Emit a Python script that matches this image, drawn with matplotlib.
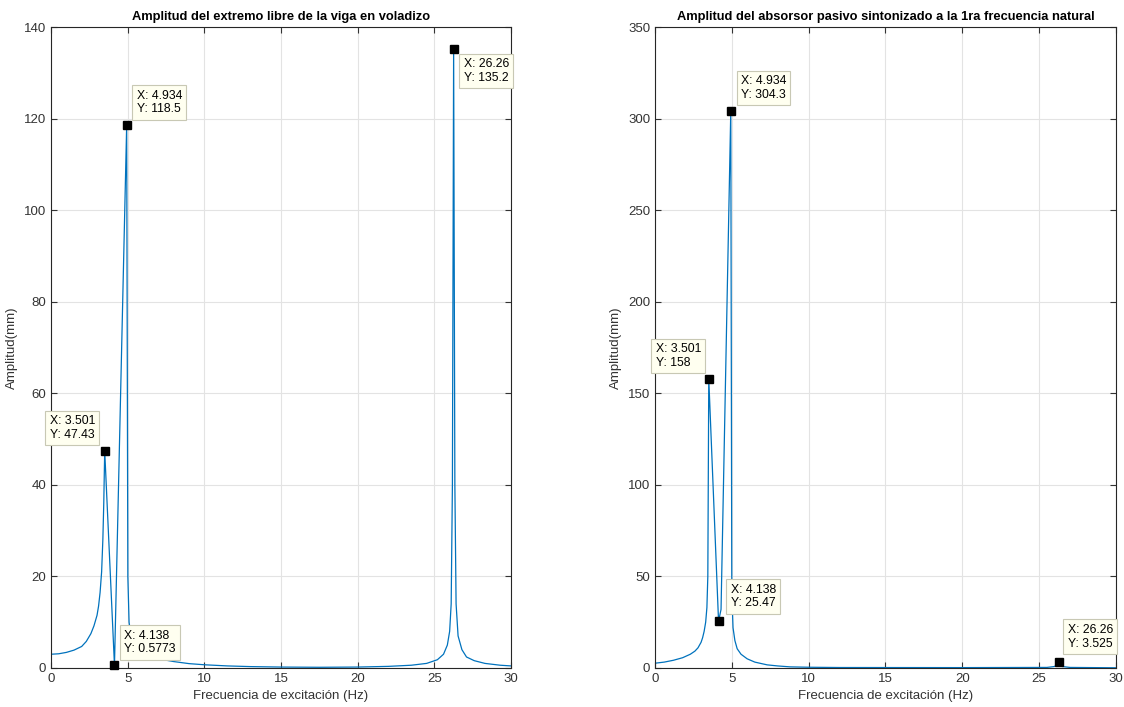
import matplotlib
matplotlib.use("Agg")
import matplotlib.pyplot as plt

plt.rcParams["font.family"] = ["Liberation Sans", "DejaVu Sans"]

# Free end of the cantilever beam (left panel)
freq_viga = [0, 0.5, 1, 1.5, 2, 2.3, 2.6, 2.8, 3.0, 3.1, 3.2, 3.3, 3.38, 3.44,
             3.501, 4.138, 4.934, 5.01, 5.09, 5.2, 5.4, 5.6, 5.8, 6.2, 6.6,
             7.0, 7.5, 8, 9, 10, 11.5, 13, 15, 17.5, 20, 22, 23.5, 24.5, 25.2,
             25.6, 25.85, 26.0, 26.1, 26.18, 26.26, 26.34, 26.42, 26.55, 26.8,
             27.1, 27.6, 28.3, 29.3, 30]
amp_viga = [3.0, 3.1, 3.4, 3.9, 4.7, 5.8, 7.5, 9.2, 11.5, 13.5, 16.5, 21, 28, 36,
            47.43, 0.5773, 118.5, 20, 10, 7.5, 5.8, 4.9, 4.3, 3.3, 2.6,
            2.1, 1.7, 1.4, 0.95, 0.7, 0.45, 0.3, 0.2, 0.15, 0.2, 0.35, 0.6, 1.0, 1.8,
            3.0, 5, 8, 14, 40, 135.2, 40, 14, 7, 4,
            2.4, 1.6, 1.0, 0.6, 0.45]

# Tuned passive absorber (right panel)
freq_abs = [0, 0.6, 1.2, 1.8, 2.3, 2.6, 2.8, 3.0, 3.1, 3.2, 3.3, 3.38, 3.44,
            3.501, 4.138, 4.3, 4.934, 5.0, 5.08, 5.2, 5.35, 5.6, 6.0, 6.5,
            7.3, 8, 8.8, 10, 12, 20, 25.5, 26.0, 26.15, 26.26, 26.37, 26.5,
            27, 30]
amp_abs = [2.6, 3.2, 4.2, 5.6, 7.5, 9.2, 11, 14, 16.5, 20, 25, 33, 50,
           158, 25.47, 32, 304.3, 41, 22, 15, 10.5, 7.5, 5, 3.2,
           1.7, 1.1, 0.6, 0.4, 0.25, 0.2, 0.3, 0.8, 1.8, 3.525, 1.8, 0.8,
           0.3, 0.1]

tips_viga = [(3.501, 47.43, "3.501", "47.43", (-55, 10), "bottom"),
             (4.138, 0.5773, "4.138", "0.5773", (10, 10), "bottom"),
             (4.934, 118.5, "4.934", "118.5", (10, 10), "bottom"),
             (26.26, 135.2, "26.26", "135.2", (10, -9), "top")]
tips_abs = [(3.501, 158, "3.501", "158", (-53, 10), "bottom"),
            (4.138, 25.47, "4.138", "25.47", (12, 12), "bottom"),
            (4.934, 304.3, "4.934", "304.3", (10, 10), "bottom"),
            (26.26, 3.525, "26.26", "3.525", (9, 12), "bottom")]

blue = "#0072BD"
fig = plt.figure(figsize=(11.24, 7.07), dpi=100)
ax1 = fig.add_axes([0.0454, 0.0552, 0.4092, 0.9066])
ax2 = fig.add_axes([0.5827, 0.0552, 0.4102, 0.9066])

panels = [
    (ax1, freq_viga, amp_viga, tips_viga, 140, 20,
     "Amplitud del extremo libre de la viga en voladizo"),
    (ax2, freq_abs, amp_abs, tips_abs, 350, 50,
     "Amplitud del absorsor pasivo sintonizado a la 1ra frecuencia natural"),
]

for ax, f, a, tips, ymax, ystep, title in panels:
    ax.plot(f, a, color=blue, lw=0.9, zorder=2)
    ax.set_xlim(0, 30)
    ax.set_ylim(0, ymax)
    ax.set_xticks(range(0, 31, 5))
    ax.set_yticks(range(0, ymax + 1, ystep))
    ax.grid(True, color="#e3e3e3", lw=0.8)
    ax.set_axisbelow(True)
    ax.tick_params(direction="in", top=True, right=True, labelsize=9.5,
                   colors="#333333", length=4, width=0.8)
    for s in ax.spines.values():
        s.set_color("#262626")
        s.set_linewidth(0.8)
    ax.set_title(title, fontsize=9.3, fontweight="bold", pad=5)
    ax.set_xlabel("Frecuencia de excitación (Hz)", fontsize=9.5, color="#333333")
    ax.set_ylabel("Amplitud(mm)", fontsize=9.5, color="#333333")

    for x, y, xs, ys, off, va in tips:
        ax.plot(x, y, "s", color="black", ms=6, zorder=5, clip_on=False)
        ax.annotate(f"X: {xs}\nY: {ys}", (x, y), xytext=off,
                    textcoords="offset pixels", ha="left", va=va,
                    fontsize=8.8, color="black", zorder=6,
                    bbox=dict(boxstyle="square,pad=0.35", fc="#FFFFF0",
                              ec="#c8c8b4", lw=0.8))

fig.savefig("out.png", dpi=100)
